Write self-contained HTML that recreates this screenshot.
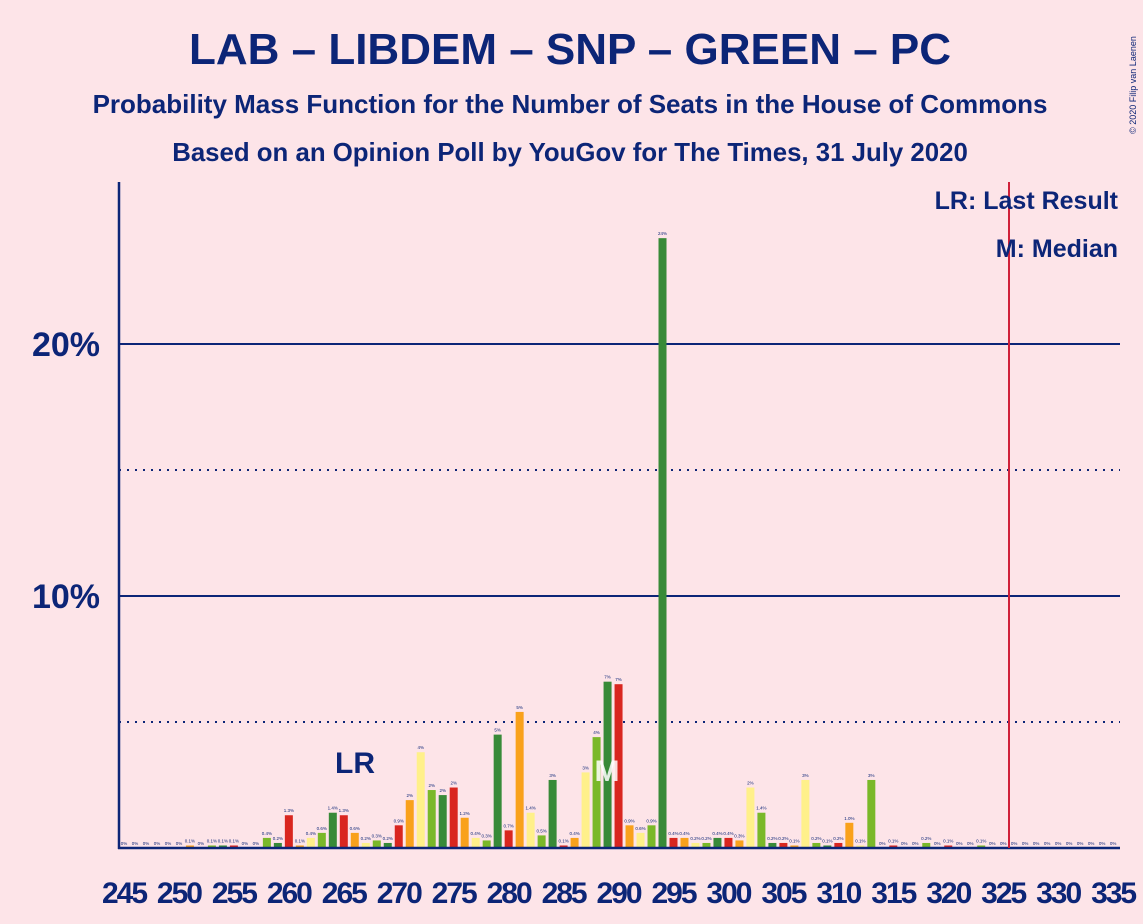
<!DOCTYPE html>
<html><head><meta charset="utf-8"><style>
body{margin:0;background:#fde4e8;}
svg{display:block;font-family:"Liberation Sans",sans-serif;}
</style></head><body>
<svg id="chart" width="1143" height="924" viewBox="0 0 1143 924" xmlns="http://www.w3.org/2000/svg">
<rect width="1143" height="924" fill="#fde4e8"/>
<text x="570" y="64" text-anchor="middle" font-size="44" font-weight="bold" fill="#0c2577">LAB – LIBDEM – SNP – GREEN – PC</text>
<text x="570" y="113" text-anchor="middle" font-size="26" font-weight="bold" fill="#0c2577">Probability Mass Function for the Number of Seats in the House of Commons</text>
<text x="570" y="161" text-anchor="middle" font-size="25.8" font-weight="bold" fill="#0c2577">Based on an Opinion Poll by YouGov for The Times, 31 July 2020</text>
<text x="1136" y="85" transform="rotate(-90 1136 85)" text-anchor="middle" font-size="9" fill="#0c2577">© 2020 Filip van Laenen</text>
<g id="grid"></g>
<g id="bars"></g>
<g id="labels"></g>
<g id="xticks"></g>
<line x1="119" y1="182" x2="119" y2="849" stroke="#0c2577" stroke-width="2.5"/>
<line x1="118" y1="848" x2="1120" y2="848" stroke="#0c2577" stroke-width="2.5"/>
<line x1="1009" y1="182" x2="1009" y2="848" stroke="#d0203a" stroke-width="2"/>
<text x="355" y="773" text-anchor="middle" font-size="30" font-weight="bold" fill="#0c2577">LR</text>
<text x="607" y="781" text-anchor="middle" font-size="30" font-weight="bold" fill="#ffffff" fill-opacity="0.85">M</text>
<text x="1118" y="209" text-anchor="end" font-size="25" font-weight="bold" fill="#0c2577">LR: Last Result</text>
<text x="1118" y="257" text-anchor="end" font-size="25" font-weight="bold" fill="#0c2577">M: Median</text>
</svg>
<script>
const seats = [];
for (let s = 245; s <= 335; s++) seats.push(s);
const probs = [0,0,0,0,0,0,0.1,0,0.1,0.1,0.1,0,0,0.4,0.2,1.3,0.1,0.4,0.6,1.4,1.3,0.6,0.2,0.3,0.2,0.9,1.9,3.8,2.3,2.1,2.4,1.2,0.4,0.3,4.5,0.7,5.4,1.4,0.5,2.7,0.1,0.4,3.0,4.4,6.6,6.5,0.9,0.6,0.9,24.2,0.4,0.4,0.2,0.2,0.4,0.4,0.3,2.4,1.4,0.2,0.2,0.1,2.7,0.2,0.1,0.2,1.0,0.1,2.7,0,0.1,0,0,0.2,0,0.1,0,0,0.1,0,0,0,0,0,0,0,0,0,0,0,0];
const yTicks = [10, 20];
const yDotted = [5, 15];
const xTickSeats = [245,250,255,260,265,270,275,280,285,290,295,300,305,310,315,320,325,330,335];
const colors = ["#388a38","#d9261f","#f9a11b","#fff08a","#7ab829"];
const NS = "http://www.w3.org/2000/svg";
const xScale = s => 124 + (s - 245) * 10.99;
const yScale = v => 848 - v * 25.2;
function mk(tag, attrs, parent) { const e = document.createElementNS(NS, tag); for (const k in attrs) e.setAttribute(k, attrs[k]); parent.appendChild(e); return e; }
const grid = document.getElementById('grid'), bars = document.getElementById('bars'), labels = document.getElementById('labels'), xt = document.getElementById('xticks');
yTicks.forEach(v => {
  const l = mk('line', {x1:119, x2:1120, y1:yScale(v), y2:yScale(v), stroke:'#0c2577', 'stroke-width':2}, grid);
  
  
  const t = mk('text', {x:100, y:yScale(v)+12, 'text-anchor':'end', 'font-size':34, 'font-weight':'bold', fill:'#0c2577'}, grid);
  t.textContent = v + '%';
  
  
});
yDotted.forEach(v => {
  const l = mk('line', {x1:119, x2:1120, y1:yScale(v), y2:yScale(v), stroke:'#0c2577', 'stroke-width':2, 'stroke-dasharray':'2,6'}, grid);
  
  
});
seats.forEach((s, i) => {
  const v = probs[i];
  const x = xScale(s);
  const c = colors[(((s - 264) % 5) + 5) % 5];
  if (v > 0) {
    const r = mk('rect', {x:x-4, y:yScale(v), width:8, height:848-yScale(v), fill:c}, bars);
    
    
  }
  const t = mk('text', {x:x, y:yScale(v)-3, 'text-anchor':'middle', 'font-size':4.5, fill:'#0c2577'}, labels);
  t.textContent = v === 0 ? '0%' : (v < 1.5 ? v.toFixed(1) + '%' : Math.round(v) + '%');
  
  
});
xTickSeats.forEach(s => {
  const t = mk('text', {x:xScale(s), y:903, 'text-anchor':'middle', 'font-size':30, 'font-weight':'bold', fill:'#0c2577', 'letter-spacing':'-2'}, xt);
  t.textContent = s;
  
  
});
</script>
</body></html>
